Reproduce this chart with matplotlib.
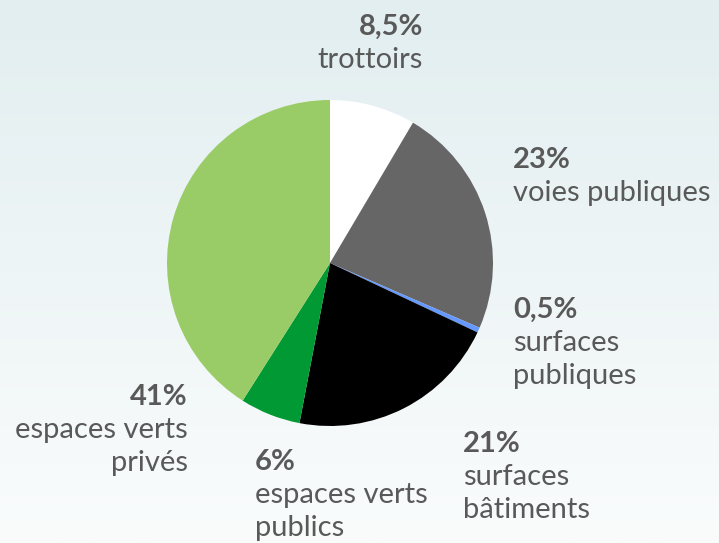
import numpy as np
import matplotlib
matplotlib.use("Agg")
import matplotlib.pyplot as plt
from matplotlib.colors import LinearSegmentedColormap

# shares of surface, clockwise from 12 o'clock
labels = ["trottoirs", "voies publiques", "surfaces\npubliques", "surfaces\nbâtiments",
          "espaces verts\npublics", "espaces verts\nprivés"]
pct_text = ["8,5%", "23%", "0,5%", "21%", "6%", "41%"]
values = [8.5, 23, 0.5, 21, 6, 41]
colors = ["#ffffff", "#666666", "#6699ff", "#000000", "#009933", "#99cc66"]

W, H = 719, 543
fig = plt.figure(figsize=(W / 100, H / 100), dpi=100)

# soft background gradient
bg = fig.add_axes([0, 0, 1, 1], zorder=-1)
cmap = LinearSegmentedColormap.from_list("bg", ["#e2eef0", "#fafcfc"])
bg.imshow(np.linspace(0, 1, 256).reshape(-1, 1), aspect="auto", cmap=cmap,
          extent=[0, 1, 0, 1])
bg.axis("off")

# pie centred at (330, 263) px with radius 163 px
cx, cy, r = 330, 263, 163
ax = fig.add_axes([(cx - r) / W, (H - cy - r) / H, 2 * r / W, 2 * r / H])
ax.pie(values, colors=colors, startangle=90, counterclock=False,
       wedgeprops=dict(linewidth=0))
ax.set_xlim(-1, 1)
ax.set_ylim(-1, 1)
ax.set_aspect("auto")
ax.axis("off")

txt_color = "#595959"
fs = 21
font = "Lato"
# (x px, baseline y px of first line, horizontal alignment)
spots = [(423, 35, "right"), (513, 168, "left"), (513, 318, "left"),
         (463, 452, "left"), (255, 470, "left"), (188, 405, "right")]
line_h = 33
for (x, y, ha), p, lab in zip(spots, pct_text, labels):
    fig.text(x / W, 1 - y / H, p, ha=ha, va="baseline", fontsize=fs,
             fontweight="bold", color=txt_color, family=font)
    for i, line in enumerate(lab.split("\n")):
        fig.text(x / W, 1 - (y + line_h * (i + 1)) / H, line, ha=ha,
                 va="baseline", fontsize=fs, color=txt_color, family=font)

fig.savefig("out.png", dpi=100)
